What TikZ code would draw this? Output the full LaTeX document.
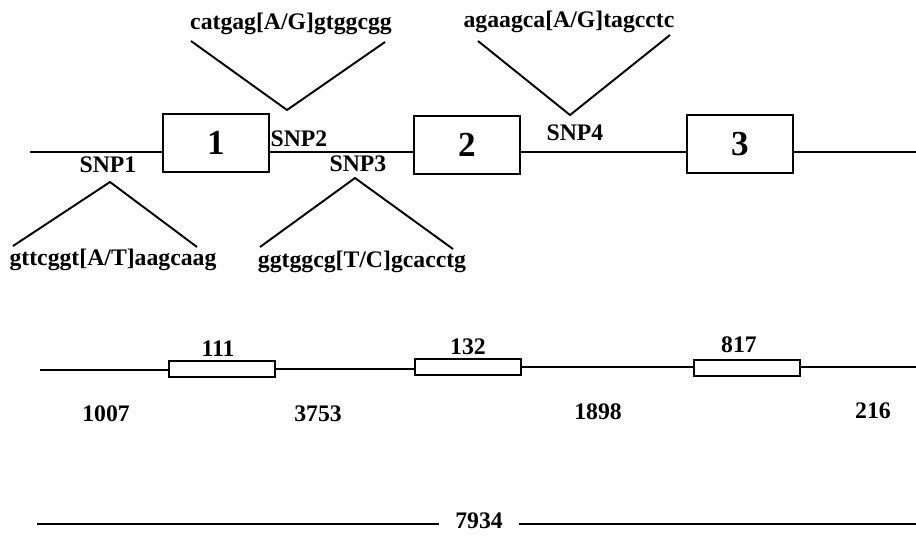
\documentclass[tikz,border=0pt]{standalone}
\usepackage{fontspec}
\setmainfont{Liberation Serif}
\begin{document}
\begin{tikzpicture}[x=0.02cm,y=-0.02cm,font=\bfseries\fontsize{13.5}{16}\selectfont,
  ln/.style={line width=1.1pt},
  exon/.style={draw,line width=1.1pt,minimum width=2.12cm,minimum height=1.16cm,inner sep=0pt,font=\bfseries\fontsize{20}{24}\selectfont},
  bar/.style={draw,line width=1pt,minimum width=2.12cm,minimum height=0.31cm,inner sep=0pt}]
\useasboundingbox (0,0) rectangle (916,535);
% gene with its three exons
\node[exon] (ex1) at (216,143) {1};
\node[exon] (ex2) at (467,145) {2};
\node[exon] (ex3) at (740,144) {3};
\coordinate (gL) at (30,152); \coordinate (gR) at (916,152);
\draw[ln] (gL) -- (gL -| ex1.west);
\draw[ln] (ex1.east |- gL) -- (ex2.west |- gL);
\draw[ln] (ex2.east |- gL) -- (ex3.west |- gL);
\draw[ln] (ex3.east |- gR) -- (gR);
% SNPs and flanking sequences
\node (snp1) at (108,165) {SNP1};
\node (snp2) at (299,139) {SNP2};
\node (snp3) at (358,164) {SNP3};
\node (snp4) at (575,133) {SNP4};
\node (seq1) at (113,260) {gttcggt[A/T]aagcaag};
\node (seq2) at (291,24) {catgag[A/G]gtggcgg};
\node (seq3) at (362,262) {ggtggcg[T/C]gcacctg};
\node (seq4) at (569,22) {agaagca[A/G]tagcctc};
\coordinate (v1) at (110,182); \coordinate (v1a) at (13,246); \coordinate (v1b) at (197,247);
\coordinate (v2) at (287,110); \coordinate (v2a) at (191,41); \coordinate (v2b) at (385,42);
\coordinate (v3) at (355,178); \coordinate (v3a) at (260,247); \coordinate (v3b) at (453,249);
\coordinate (v4) at (570,115); \coordinate (v4a) at (478,41); \coordinate (v4b) at (670,35);
\foreach \v in {v1,v2,v3,v4} \draw[ln] (\v a) -- (\v) -- (\v b);
% exon and intron sizes
\node[bar] (b1) at (222,369) {};
\node[bar] (b2) at (468,367) {};
\node[bar] (b3) at (747,368) {};
\node (len1) at (218,349) {111};
\node (len2) at (468,347) {132};
\node (len3) at (739,345) {817};
\coordinate (hL) at (40,370); \coordinate (hR) at (916,367);
\draw[ln] (hL) -- (hL -| b1.west);
\draw[ln] (b1.east) -- (b1.east -| b2.west);
\draw[ln] (b2.east) -- (b2.east -| b3.west);
\draw[ln] (b3.east |- hR) -- (hR);
\node (in1) at (106,414) {1007};
\node (in2) at (318,414) {3753};
\node (in3) at (598,412) {1898};
\node (in4) at (873,411) {216};
% total length
\node[inner xsep=9pt] (tot) at (479,521) {7934};
\coordinate (tL) at (37,524); \coordinate (tR) at (916,524);
\draw[ln] (tL) -- (tot.west |- tL);
\draw[ln] (tot.east |- tR) -- (tR);
\end{tikzpicture}
\end{document}
